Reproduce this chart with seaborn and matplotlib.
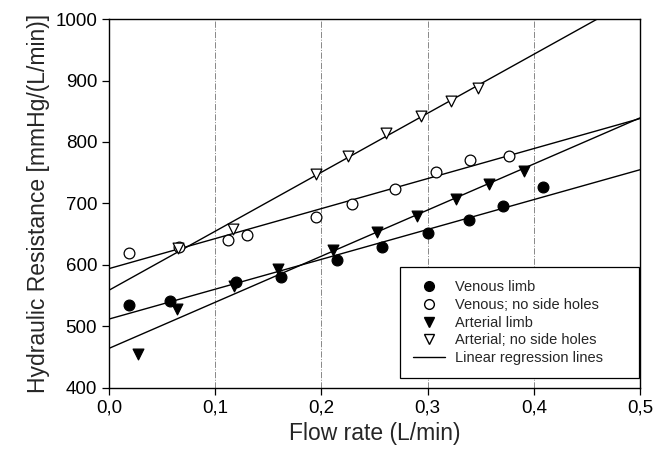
import numpy as np
import pandas as pd
import seaborn as sns
import matplotlib
matplotlib.use("Agg")
from matplotlib import pyplot as plt
from matplotlib.lines import Line2D
from matplotlib.ticker import FuncFormatter

# values
venous_x = [0.019, 0.057, 0.120, 0.162, 0.215, 0.257, 0.300, 0.339, 0.371, 0.409]
venous_y = [535, 541, 572, 580, 608, 629, 652, 673, 696, 727]

venous_nsh_x = [0.019, 0.066, 0.112, 0.130, 0.195, 0.229, 0.269, 0.308, 0.340, 0.377]
venous_nsh_y = [619, 630, 641, 648, 678, 699, 724, 752, 770, 778]

arterial_x = [0.027, 0.064, 0.118, 0.159, 0.211, 0.252, 0.290, 0.327, 0.358, 0.391]
arterial_y = [455, 528, 566, 593, 625, 653, 679, 707, 732, 753]

arterial_nsh_x = [0.065, 0.117, 0.195, 0.225, 0.261, 0.294, 0.322, 0.347]
arterial_nsh_y = [628, 658, 748, 778, 814, 842, 867, 888]

x_ticks = [0.0, 0.1, 0.2, 0.3, 0.4, 0.5]
y_ticks = [400, 500, 600, 700, 800, 900, 1000]

sns.set_style("ticks")
plt.rcParams['font.family'] = ['Liberation Sans', 'DejaVu Sans']

fig = plt.figure(figsize=(6.67, 4.59), dpi=100)
ax = fig.add_axes([0.1634, 0.1547, 0.7961, 0.8039])
ax.set_xlim(0, 0.5)
ax.set_ylim(400, 1000)

series = [
    (venous_x, venous_y, "o", "black", "Venous limb"),
    (venous_nsh_x, venous_nsh_y, "o", "white", "Venous; no side holes"),
    (arterial_x, arterial_y, "v", "black", "Arterial limb"),
    (arterial_nsh_x, arterial_nsh_y, "v", "white", "Arterial; no side holes"),
]

for xs, ys, mk, fc, lab in series:
    df = pd.DataFrame({"flow": xs, "res": ys})
    sns.regplot(data=df, x="flow", y="res", ax=ax, scatter=False, ci=None,
                truncate=False, color="black", line_kws={"lw": 1.0, "zorder": 2})
    sns.scatterplot(data=df, x="flow", y="res", ax=ax, marker=mk, s=60,
                    color=fc, edgecolor="black", linewidth=0.9, zorder=3)

ax.set_xlim(0, 0.5)
ax.set_ylim(400, 1000)
ax.set_xticks(x_ticks)
ax.set_yticks(y_ticks)
ax.xaxis.set_major_formatter(FuncFormatter(lambda v, p: f"{v:.1f}".replace(".", ",")))
ax.grid(axis="x", linestyle="-.", color="#888888", lw=0.7)
ax.tick_params(axis="both", direction="out", length=5, width=0.9, labelsize=13.5, colors="black")
for s in ax.spines.values():
    s.set_color("black")
    s.set_linewidth(1.0)
ax.set_xlabel("Flow rate (L/min)", fontsize=16.5)
ax.set_ylabel("Hydraulic Resistance [mmHg/(L/min)]", fontsize=16.5)

handles = [Line2D([], [], ls="none", marker=mk, markersize=7, markerfacecolor=fc,
                  markeredgecolor="black", color="black", label=lab)
           for _, _, mk, fc, lab in series]
handles.append(Line2D([], [], color="black", lw=1.0, label="Linear regression lines"))
leg = ax.legend(handles=handles, loc="lower left", bbox_to_anchor=(0.548, 0.027, 0.45, 0.3),
                mode="expand", borderaxespad=0, fontsize=10.5, frameon=True, fancybox=False,
                edgecolor="black", framealpha=1, borderpad=0.9, labelspacing=0.25,
                handletextpad=0.7, handlelength=2.2)
leg.get_frame().set_linewidth(0.9)

fig.savefig("out.png", dpi=100)
